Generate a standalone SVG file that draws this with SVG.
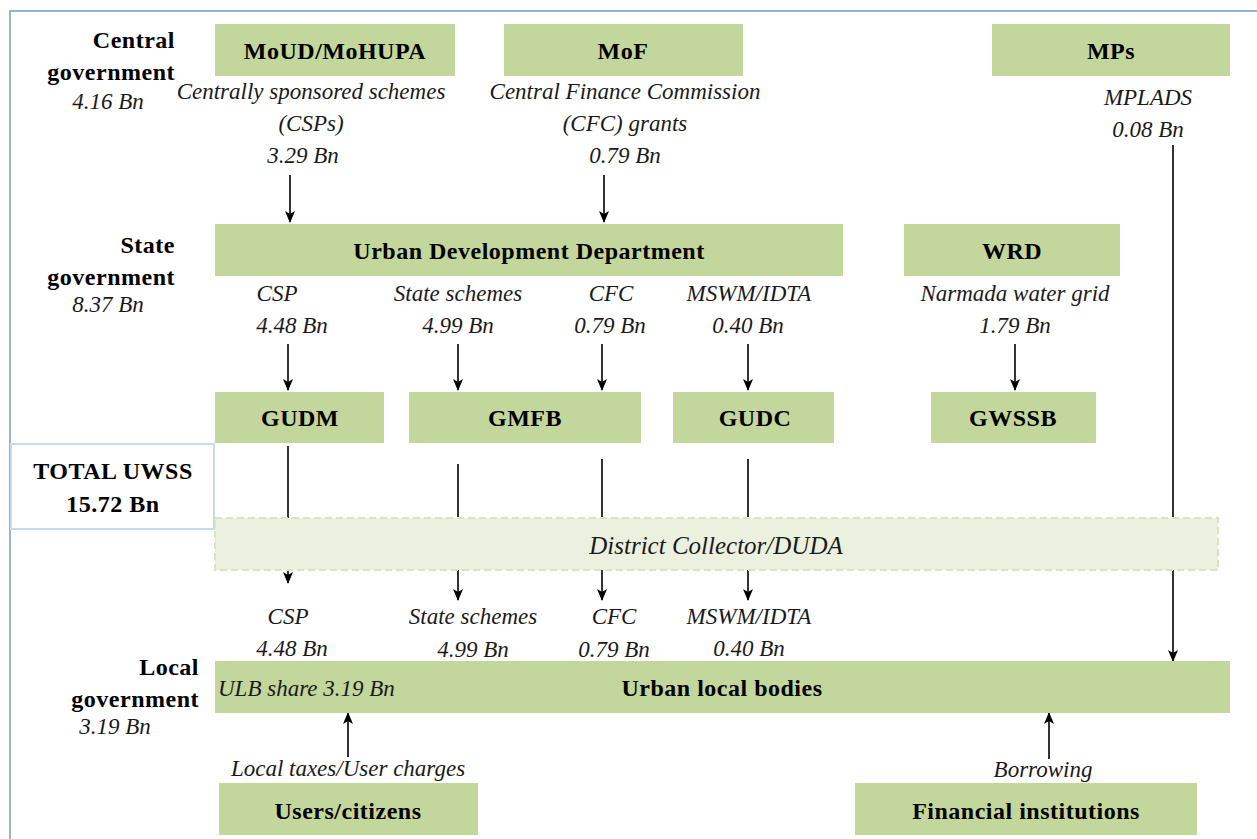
<svg xmlns="http://www.w3.org/2000/svg" width="1257" height="839" viewBox="0 0 1257 839">
<defs>
<style>
.box{fill:#c3d69b}
.b{font-family:"Liberation Serif","DejaVu Serif",serif;font-weight:bold;font-size:24px;letter-spacing:0.5px;fill:#000;text-anchor:middle}
.i{font-family:"Liberation Serif","DejaVu Serif",serif;font-style:italic;font-size:23px;fill:#1a1a1a;text-anchor:middle}
.r{text-anchor:end}
.s{text-anchor:start}
.ln{stroke:#000;stroke-width:1.6;fill:none;marker-end:url(#ah)}
</style>
<marker id="ah" viewBox="0 0 12 12" refX="11" refY="6" markerWidth="12" markerHeight="12" markerUnits="userSpaceOnUse" orient="auto">
<path d="M0,1 L12,6 L0,11 L3,6 Z" fill="#000"/>
</marker>
</defs>
<rect x="10" y="11" width="1260" height="840" fill="#fff" stroke="#95b3d7" stroke-width="2"/>

<g id="labels">
<text class="b r" x="175" y="48">Central</text>
<text class="b r" x="175" y="80">government</text>
<text class="i" x="108" y="109">4.16 Bn</text>
<text class="b r" x="175" y="253">State</text>
<text class="b r" x="175" y="285">government</text>
<text class="i" x="108" y="312">8.37 Bn</text>
<text class="b r" x="199" y="675">Local</text>
<text class="b r" x="199" y="707">government</text>
<text class="i" x="115" y="734">3.19 Bn</text>
</g>

<g id="connectors">
<line class="ln" x1="290" y1="175" x2="290" y2="222"/>
<line class="ln" x1="604" y1="175" x2="604" y2="222"/>
<line class="ln" x1="1173" y1="145" x2="1173" y2="661"/>
<line class="ln" x1="288" y1="344" x2="288" y2="390"/>
<line class="ln" x1="458" y1="344" x2="458" y2="390"/>
<line class="ln" x1="602" y1="344" x2="602" y2="390"/>
<line class="ln" x1="748" y1="344" x2="748" y2="390"/>
<line class="ln" x1="1015" y1="344" x2="1015" y2="390"/>
<line class="ln" x1="288" y1="446" x2="288" y2="583"/>
<line class="ln" x1="458" y1="464" x2="458" y2="600"/>
<line class="ln" x1="602" y1="459" x2="602" y2="600"/>
<line class="ln" x1="748" y1="459" x2="748" y2="600"/>
<line class="ln" x1="348" y1="757" x2="348" y2="713"/>
<line class="ln" x1="1049" y1="759" x2="1049" y2="713"/>
</g>

<g id="flow-labels">
<text class="i" x="311" y="99">Centrally sponsored schemes</text>
<text class="i" x="311" y="131">(CSPs)</text>
<text class="i" x="303" y="163">3.29 Bn</text>
<text class="i" x="625" y="99">Central Finance Commission</text>
<text class="i" x="625" y="131">(CFC) grants</text>
<text class="i" x="625" y="163">0.79 Bn</text>
<text class="i" x="1148" y="105">MPLADS</text>
<text class="i" x="1148" y="137">0.08 Bn</text>
<text class="i" x="277" y="301">CSP</text>
<text class="i" x="292" y="333">4.48 Bn</text>
<text class="i" x="458" y="301">State schemes</text>
<text class="i" x="458" y="333">4.99 Bn</text>
<text class="i" x="611" y="301">CFC</text>
<text class="i" x="610" y="333">0.79 Bn</text>
<text class="i" x="749" y="301">MSWM/IDTA</text>
<text class="i" x="748" y="333">0.40 Bn</text>
<text class="i" x="1015" y="301">Narmada water grid</text>
<text class="i" x="1015" y="333">1.79 Bn</text>
<text class="i" x="288" y="624">CSP</text>
<text class="i" x="292" y="656">4.48 Bn</text>
<text class="i" x="473" y="624">State schemes</text>
<text class="i" x="473" y="657">4.99 Bn</text>
<text class="i" x="614" y="624">CFC</text>
<text class="i" x="614" y="657">0.79 Bn</text>
<text class="i" x="749" y="624">MSWM/IDTA</text>
<text class="i" x="749" y="656">0.40 Bn</text>
<text class="i" x="348" y="776">Local taxes/User charges</text>
<text class="i" x="1043" y="777">Borrowing</text>
</g>

<g id="moud"><rect class="box" x="215" y="24" width="240" height="52"/><text class="b" x="335" y="59">MoUD/MoHUPA</text></g>
<g id="mof"><rect class="box" x="504" y="24" width="239" height="52"/><text class="b" x="623" y="59">MoF</text></g>
<g id="mps"><rect class="box" x="992" y="24" width="238" height="52"/><text class="b" x="1111" y="59">MPs</text></g>
<g id="udd"><rect class="box" x="215" y="224" width="628" height="52"/><text class="b" x="529" y="259">Urban Development Department</text></g>
<g id="wrd"><rect class="box" x="904" y="224" width="216" height="52"/><text class="b" x="1012" y="259">WRD</text></g>
<g id="gudm"><rect class="box" x="215" y="392" width="169" height="51"/><text class="b" x="300" y="426">GUDM</text></g>
<g id="gmfb"><rect class="box" x="409" y="392" width="232" height="51"/><text class="b" x="525" y="426">GMFB</text></g>
<g id="gudc"><rect class="box" x="673" y="392" width="161" height="51"/><text class="b" x="755" y="426">GUDC</text></g>
<g id="gwssb"><rect class="box" x="931" y="392" width="165" height="51"/><text class="b" x="1013" y="426">GWSSB</text></g>
<g id="total"><rect x="11" y="444" width="203" height="85" fill="#fff" stroke="#c6d9f1" stroke-width="2"/><text class="b" x="113" y="479">TOTAL UWSS</text><text class="b" x="113" y="512">15.72 Bn</text></g>
<g id="duda"><rect x="215" y="518" width="1003" height="52" fill="#ebf1de" stroke="#d7e4bd" stroke-width="2" stroke-dasharray="7,4"/><text class="i" x="716" y="554" style="font-size:25px">District Collector/DUDA</text></g>
<g id="ulb"><rect class="box" x="215" y="661" width="1015" height="52"/><text class="b" x="722" y="696">Urban local bodies</text><text class="i s" x="218" y="696">ULB share 3.19 Bn</text></g>
<g id="users"><rect class="box" x="219" y="783" width="259" height="52"/><text class="b" x="348" y="819">Users/citizens</text></g>
<g id="fin"><rect class="box" x="855" y="783" width="342" height="52"/><text class="b" x="1026" y="819">Financial institutions</text></g>
</svg>
